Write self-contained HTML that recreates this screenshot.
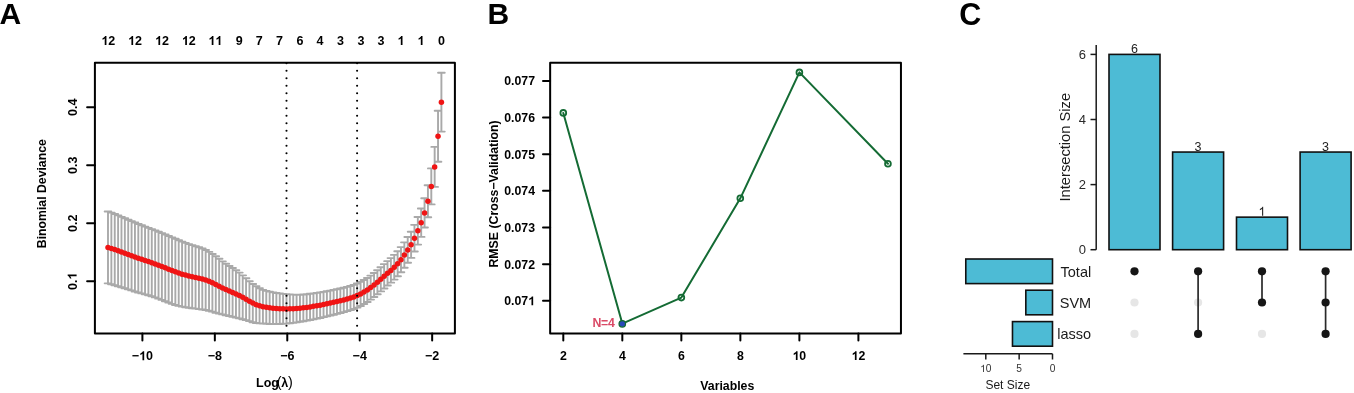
<!DOCTYPE html>
<html><head><meta charset="utf-8"><style>
html,body{margin:0;padding:0;background:#fff;}
body{width:1354px;height:393px;overflow:hidden;}
svg{display:block;font-family:"Liberation Sans", sans-serif;will-change:transform;}
</style></head><body>
<svg width="1354" height="393" viewBox="0 0 1354 393">
<text x="-0.40" y="24.30" font-size="30" font-weight="bold" text-anchor="start" fill="#000">A</text>
<path d="M441.40 72.80V131.60M438.05 72.80H444.75M438.05 131.60H444.75M438.03 110.70V161.70M434.68 110.70H441.38M434.68 161.70H441.38M434.66 146.90V186.90M431.31 146.90H438.01M431.31 186.90H438.01M431.30 168.40V204.40M427.95 168.40H434.65M427.95 204.40H434.65M427.93 185.30V217.30M424.58 185.30H431.28M424.58 217.30H431.28M424.56 198.30V227.50M421.21 198.30H427.91M421.21 227.50H427.91M421.19 208.50V236.90M417.84 208.50H424.54M417.84 236.90H424.54M417.83 217.00V244.60M414.48 217.00H421.18M414.48 244.60H421.18M414.46 224.87V251.53M411.11 224.87H417.81M411.11 251.53H417.81M411.09 231.72V257.88M407.74 231.72H414.44M407.74 257.88H414.44M407.72 237.01V262.78M404.37 237.01H411.07M404.37 262.78H411.07M404.36 242.34V267.78M401.01 242.34H407.71M401.01 267.78H407.71M400.99 247.12V272.22M397.64 247.12H404.34M397.64 272.22H404.34M397.62 251.30V276.18M394.27 251.30H400.97M394.27 276.18H400.97M394.25 254.90V279.61M390.90 254.90H397.60M390.90 279.61H397.60M390.88 258.12V282.66M387.53 258.12H394.23M387.53 282.66H394.23M387.52 261.16V285.55M384.17 261.16H390.87M384.17 285.55H390.87M384.15 264.17V288.45M380.80 264.17H387.50M380.80 288.45H387.50M380.78 267.22V291.39M377.43 267.22H384.13M377.43 291.39H384.13M377.41 270.22V294.28M374.06 270.22H380.76M374.06 294.28H380.76M374.05 273.04V297.04M370.70 273.04H377.40M370.70 297.04H377.40M370.68 275.60V299.60M367.33 275.60H374.03M367.33 299.60H374.03M367.31 277.93V301.93M363.96 277.93H370.66M363.96 301.93H370.66M363.94 280.03V304.03M360.59 280.03H367.29M360.59 304.03H367.29M360.58 281.89V305.93M357.23 281.89H363.93M357.23 305.93H363.93M357.21 283.49V307.58M353.86 283.49H360.56M353.86 307.58H360.56M353.84 284.83V308.97M350.49 284.83H357.19M350.49 308.97H357.19M350.47 285.95V310.14M347.12 285.95H353.82M347.12 310.14H353.82M347.11 286.88V311.17M343.76 286.88H350.46M343.76 311.17H350.46M343.74 287.71V312.12M340.39 287.71H347.09M340.39 312.12H347.09M340.37 288.49V313.01M337.02 288.49H343.72M337.02 313.01H343.72M337.00 289.22V313.87M333.65 289.22H340.35M333.65 313.87H340.35M333.63 289.92V314.73M330.28 289.92H336.98M330.28 314.73H336.98M330.27 290.59V315.56M326.92 290.59H333.62M326.92 315.56H333.62M326.90 291.24V316.37M323.55 291.24H330.25M323.55 316.37H330.25M323.53 291.84V317.16M320.18 291.84H326.88M320.18 317.16H326.88M320.16 292.40V317.93M316.81 292.40H323.51M316.81 317.93H323.51M316.80 292.92V318.66M313.45 292.92H320.15M313.45 318.66H320.15M313.43 293.40V319.35M310.08 293.40H316.78M310.08 319.35H316.78M310.06 293.81V320.02M306.71 293.81H313.41M306.71 320.02H313.41M306.69 294.18V320.65M303.34 294.18H310.04M303.34 320.65H310.04M303.33 294.48V321.22M299.98 294.48H306.68M299.98 321.22H306.68M299.96 294.72V321.73M296.61 294.72H303.31M296.61 321.73H303.31M296.59 294.70V322.33M293.24 294.70H299.94M293.24 322.33H299.94M293.22 294.60V322.85M289.87 294.60H296.57M289.87 322.85H296.57M289.85 294.42V323.28M286.50 294.42H293.20M286.50 323.28H293.20M286.49 294.16V323.60M283.14 294.16H289.84M283.14 323.60H289.84M283.12 293.83V323.81M279.77 293.83H286.47M279.77 323.81H286.47M279.75 293.42V323.93M276.40 293.42H283.10M276.40 323.93H283.10M276.38 292.93V323.98M273.03 292.93H279.73M273.03 323.98H279.73M273.02 292.34V323.99M269.67 292.34H276.37M269.67 323.99H276.37M269.65 291.66V323.95M266.30 291.66H273.00M266.30 323.95H273.00M266.28 290.87V323.79M262.93 290.87H269.63M262.93 323.79H269.63M262.91 289.92V323.48M259.56 289.92H266.26M259.56 323.48H266.26M259.55 288.28V323.37M256.20 288.28H262.90M256.20 323.37H262.90M256.18 286.29V322.97M252.83 286.29H259.53M252.83 322.97H259.53M252.81 283.93V322.21M249.46 283.93H256.16M249.46 322.21H256.16M249.44 281.25V321.17M246.09 281.25H252.79M246.09 321.17H252.79M246.07 278.26V320.15M242.72 278.26H249.42M242.72 320.15H249.42M242.71 275.33V319.19M239.36 275.33H246.06M239.36 319.19H246.06M239.34 272.58V318.40M235.99 272.58H242.69M235.99 318.40H242.69M235.97 270.20V317.61M232.62 270.20H239.32M232.62 317.61H239.32M232.60 268.06V316.82M229.25 268.06H235.95M229.25 316.82H235.95M229.24 265.94V316.05M225.89 265.94H232.59M225.89 316.05H232.59M225.87 263.77V315.22M222.52 263.77H229.22M222.52 315.22H229.22M222.50 261.35V314.42M219.15 261.35H225.85M219.15 314.42H225.85M219.13 258.79V313.59M215.78 258.79H222.48M215.78 313.59H222.48M215.77 256.22V312.70M212.42 256.22H219.12M212.42 312.70H219.12M212.40 253.96V311.64M209.05 253.96H215.75M209.05 311.64H215.75M209.03 251.88V310.76M205.68 251.88H212.38M205.68 310.76H212.38M205.66 250.07V310.05M202.31 250.07H209.01M202.31 310.05H209.01M202.29 248.57V309.51M198.94 248.57H205.64M198.94 309.51H205.64M198.93 247.29V309.10M195.58 247.29H202.28M195.58 309.10H202.28M195.56 246.22V308.67M192.21 246.22H198.91M192.21 308.67H198.91M192.19 245.17V308.27M188.84 245.17H195.54M188.84 308.27H195.54M188.82 244.08V307.82M185.47 244.08H192.17M185.47 307.82H192.17M185.46 242.90V307.29M182.11 242.90H188.81M182.11 307.29H188.81M182.09 241.61V306.65M178.74 241.61H185.44M178.74 306.65H185.44M178.72 240.20V305.89M175.37 240.20H182.07M175.37 305.89H182.07M175.35 238.69V305.02M172.00 238.69H178.70M172.00 305.02H178.70M171.99 237.33V303.83M168.64 237.33H175.34M168.64 303.83H175.34M168.62 235.94V302.55M165.27 235.94H171.97M165.27 302.55H171.97M165.25 234.52V301.23M161.90 234.52H168.60M161.90 301.23H168.60M161.88 233.09V299.91M158.53 233.09H165.23M158.53 299.91H165.23M158.52 231.70V298.63M155.17 231.70H161.87M155.17 298.63H161.87M155.15 230.38V297.41M151.80 230.38H158.50M151.80 297.41H158.50M151.78 229.14V296.28M148.43 229.14H155.13M148.43 296.28H155.13M148.41 227.89V295.27M145.06 227.89H151.76M145.06 295.27H151.76M145.04 226.60V294.36M141.69 226.60H148.39M141.69 294.36H148.39M141.68 225.29V293.42M138.33 225.29H145.03M138.33 293.42H145.03M138.31 223.94V292.45M134.96 223.94H141.66M134.96 292.45H141.66M134.94 222.56V291.44M131.59 222.56H138.29M131.59 291.44H138.29M131.57 221.15V290.41M128.22 221.15H134.92M128.22 290.41H134.92M128.21 219.72V289.36M124.86 219.72H131.56M124.86 289.36H131.56M124.84 218.27V288.29M121.49 218.27H128.19M121.49 288.29H128.19M121.47 216.83V287.23M118.12 216.83H124.82M118.12 287.23H124.82M118.10 215.42V286.18M114.75 215.42H121.45M114.75 286.18H121.45M114.74 214.05V285.19M111.39 214.05H118.09M111.39 285.19H118.09M111.37 212.67V284.18M108.02 212.67H114.72M108.02 284.18H114.72M108.00 211.45V283.34M104.65 211.45H111.35M104.65 283.34H111.35" stroke="#a9a9a9" stroke-width="1.9" stroke-linecap="round" fill="none"/>
<g fill="#f01414"><circle cx="441.40" cy="102.20" r="2.75"/><circle cx="438.03" cy="136.20" r="2.75"/><circle cx="434.66" cy="166.90" r="2.75"/><circle cx="431.30" cy="186.40" r="2.75"/><circle cx="427.93" cy="201.30" r="2.75"/><circle cx="424.56" cy="212.90" r="2.75"/><circle cx="421.19" cy="222.70" r="2.75"/><circle cx="417.83" cy="230.80" r="2.75"/><circle cx="414.46" cy="238.20" r="2.75"/><circle cx="411.09" cy="244.80" r="2.75"/><circle cx="407.72" cy="249.89" r="2.75"/><circle cx="404.36" cy="255.06" r="2.75"/><circle cx="400.99" cy="259.67" r="2.75"/><circle cx="397.62" cy="263.74" r="2.75"/><circle cx="394.25" cy="267.26" r="2.75"/><circle cx="390.88" cy="270.39" r="2.75"/><circle cx="387.52" cy="273.35" r="2.75"/><circle cx="384.15" cy="276.31" r="2.75"/><circle cx="380.78" cy="279.31" r="2.75"/><circle cx="377.41" cy="282.25" r="2.75"/><circle cx="374.05" cy="285.04" r="2.75"/><circle cx="370.68" cy="287.60" r="2.75"/><circle cx="367.31" cy="289.93" r="2.75"/><circle cx="363.94" cy="292.03" r="2.75"/><circle cx="360.58" cy="293.91" r="2.75"/><circle cx="357.21" cy="295.53" r="2.75"/><circle cx="353.84" cy="296.90" r="2.75"/><circle cx="350.47" cy="298.04" r="2.75"/><circle cx="347.11" cy="299.02" r="2.75"/><circle cx="343.74" cy="299.91" r="2.75"/><circle cx="340.37" cy="300.75" r="2.75"/><circle cx="337.00" cy="301.55" r="2.75"/><circle cx="333.63" cy="302.32" r="2.75"/><circle cx="330.27" cy="303.08" r="2.75"/><circle cx="326.90" cy="303.80" r="2.75"/><circle cx="323.53" cy="304.50" r="2.75"/><circle cx="320.16" cy="305.16" r="2.75"/><circle cx="316.80" cy="305.79" r="2.75"/><circle cx="313.43" cy="306.37" r="2.75"/><circle cx="310.06" cy="306.92" r="2.75"/><circle cx="306.69" cy="307.41" r="2.75"/><circle cx="303.33" cy="307.85" r="2.75"/><circle cx="299.96" cy="308.22" r="2.75"/><circle cx="296.59" cy="308.51" r="2.75"/><circle cx="293.22" cy="308.72" r="2.75"/><circle cx="289.85" cy="308.85" r="2.75"/><circle cx="286.49" cy="308.88" r="2.75"/><circle cx="283.12" cy="308.82" r="2.75"/><circle cx="279.75" cy="308.67" r="2.75"/><circle cx="276.38" cy="308.46" r="2.75"/><circle cx="273.02" cy="308.17" r="2.75"/><circle cx="269.65" cy="307.80" r="2.75"/><circle cx="266.28" cy="307.33" r="2.75"/><circle cx="262.91" cy="306.70" r="2.75"/><circle cx="259.55" cy="305.82" r="2.75"/><circle cx="256.18" cy="304.63" r="2.75"/><circle cx="252.81" cy="303.07" r="2.75"/><circle cx="249.44" cy="301.21" r="2.75"/><circle cx="246.07" cy="299.21" r="2.75"/><circle cx="242.71" cy="297.26" r="2.75"/><circle cx="239.34" cy="295.49" r="2.75"/><circle cx="235.97" cy="293.90" r="2.75"/><circle cx="232.60" cy="292.44" r="2.75"/><circle cx="229.24" cy="291.00" r="2.75"/><circle cx="225.87" cy="289.49" r="2.75"/><circle cx="222.50" cy="287.89" r="2.75"/><circle cx="219.13" cy="286.19" r="2.75"/><circle cx="215.77" cy="284.46" r="2.75"/><circle cx="212.40" cy="282.80" r="2.75"/><circle cx="209.03" cy="281.32" r="2.75"/><circle cx="205.66" cy="280.06" r="2.75"/><circle cx="202.29" cy="279.04" r="2.75"/><circle cx="198.93" cy="278.19" r="2.75"/><circle cx="195.56" cy="277.45" r="2.75"/><circle cx="192.19" cy="276.72" r="2.75"/><circle cx="188.82" cy="275.95" r="2.75"/><circle cx="185.46" cy="275.09" r="2.75"/><circle cx="182.09" cy="274.13" r="2.75"/><circle cx="178.72" cy="273.05" r="2.75"/><circle cx="175.35" cy="271.86" r="2.75"/><circle cx="171.99" cy="270.58" r="2.75"/><circle cx="168.62" cy="269.24" r="2.75"/><circle cx="165.25" cy="267.87" r="2.75"/><circle cx="161.88" cy="266.50" r="2.75"/><circle cx="158.52" cy="265.16" r="2.75"/><circle cx="155.15" cy="263.90" r="2.75"/><circle cx="151.78" cy="262.71" r="2.75"/><circle cx="148.41" cy="261.58" r="2.75"/><circle cx="145.04" cy="260.48" r="2.75"/><circle cx="141.68" cy="259.35" r="2.75"/><circle cx="138.31" cy="258.19" r="2.75"/><circle cx="134.94" cy="257.00" r="2.75"/><circle cx="131.57" cy="255.78" r="2.75"/><circle cx="128.21" cy="254.54" r="2.75"/><circle cx="124.84" cy="253.28" r="2.75"/><circle cx="121.47" cy="252.03" r="2.75"/><circle cx="118.10" cy="250.80" r="2.75"/><circle cx="114.74" cy="249.62" r="2.75"/><circle cx="111.37" cy="248.42" r="2.75"/><circle cx="108.00" cy="247.39" r="2.75"/></g>
<line x1="286.5" y1="63.2" x2="286.5" y2="332" stroke="#000" stroke-width="2.1" stroke-linecap="round" stroke-dasharray="0.01 7.49"/>
<line x1="357.1" y1="63.2" x2="357.1" y2="332" stroke="#000" stroke-width="2.1" stroke-linecap="round" stroke-dasharray="0.01 7.49"/>
<rect x="94.9" y="62.75" width="360" height="270.65" fill="none" stroke="#000" stroke-width="2" stroke-linejoin="round"/>
<line x1="142.40" y1="333.4" x2="142.40" y2="340.6" stroke="#000" stroke-width="2" stroke-linecap="round"/>
<g><text x="142.40" y="360.20" font-size="12.5" font-weight="bold" text-anchor="middle" fill="#000">− 0</text><path d="M144.19 360.20L142.47 360.20L142.47 353.74Q141.53 354.62 140.26 355.04L140.26 353.48Q140.93 353.26 141.32 352.96Q141.72 352.65 142.11 352.34Q142.50 352.04 142.80 351.25L144.19 351.25Z" fill="#000"/></g>
<line x1="214.84" y1="333.4" x2="214.84" y2="340.6" stroke="#000" stroke-width="2" stroke-linecap="round"/>
<text x="214.84" y="360.20" font-size="12.5" font-weight="bold" text-anchor="middle" fill="#000">−8</text>
<line x1="287.28" y1="333.4" x2="287.28" y2="340.6" stroke="#000" stroke-width="2" stroke-linecap="round"/>
<text x="287.28" y="360.20" font-size="12.5" font-weight="bold" text-anchor="middle" fill="#000">−6</text>
<line x1="359.72" y1="333.4" x2="359.72" y2="340.6" stroke="#000" stroke-width="2" stroke-linecap="round"/>
<text x="359.72" y="360.20" font-size="12.5" font-weight="bold" text-anchor="middle" fill="#000">−4</text>
<line x1="432.16" y1="333.4" x2="432.16" y2="340.6" stroke="#000" stroke-width="2" stroke-linecap="round"/>
<text x="432.16" y="360.20" font-size="12.5" font-weight="bold" text-anchor="middle" fill="#000">−2</text>
<line x1="87.1" y1="107.3" x2="94.9" y2="107.3" stroke="#000" stroke-width="2" stroke-linecap="round"/>
<text x="76.60" y="107.30" font-size="12.5" font-weight="bold" text-anchor="middle" fill="#000" transform="rotate(-90 76.60 107.30)">0.4</text>
<line x1="87.1" y1="165.3" x2="94.9" y2="165.3" stroke="#000" stroke-width="2" stroke-linecap="round"/>
<text x="76.60" y="165.30" font-size="12.5" font-weight="bold" text-anchor="middle" fill="#000" transform="rotate(-90 76.60 165.30)">0.3</text>
<line x1="87.1" y1="223.3" x2="94.9" y2="223.3" stroke="#000" stroke-width="2" stroke-linecap="round"/>
<text x="76.60" y="223.30" font-size="12.5" font-weight="bold" text-anchor="middle" fill="#000" transform="rotate(-90 76.60 223.30)">0.2</text>
<line x1="87.1" y1="281.3" x2="94.9" y2="281.3" stroke="#000" stroke-width="2" stroke-linecap="round"/>
<g transform="rotate(-90 76.60 281.30)"><text x="76.60" y="281.30" font-size="12.5" font-weight="bold" text-anchor="middle" fill="#000">0. </text><path d="M83.43 281.30L81.71 281.30L81.71 274.84Q80.77 275.72 79.50 276.14L79.50 274.58Q80.17 274.36 80.56 274.06Q80.95 273.75 81.35 273.44Q81.74 273.14 82.04 272.35L83.43 272.35Z" fill="#000"/></g>
<text x="46.40" y="193.70" font-size="12.25" font-weight="bold" text-anchor="middle" fill="#000" transform="rotate(-90 46.40 193.70)">Binomial Deviance</text>
<text x="256" y="386.7" font-size="12.5" font-weight="bold" text-anchor="start">Log<tspan font-weight="normal" font-size="14.5" dx="-2.2">(</tspan><tspan font-weight="bold" font-size="12.5" dx="-0.3">λ</tspan><tspan font-weight="normal" font-size="14.5" dx="-0.2">)</tspan></text>
<g><text x="108.30" y="44.90" font-size="12.5" font-weight="bold" text-anchor="middle" fill="#000"> 2</text><path d="M106.44 44.90L104.72 44.90L104.72 38.44Q103.78 39.32 102.51 39.74L102.51 38.18Q103.18 37.96 103.57 37.66Q103.97 37.35 104.36 37.04Q104.75 36.74 105.05 35.95L106.44 35.95Z" fill="#000"/></g>
<g><text x="135.00" y="44.90" font-size="12.5" font-weight="bold" text-anchor="middle" fill="#000"> 2</text><path d="M133.14 44.90L131.42 44.90L131.42 38.44Q130.48 39.32 129.21 39.74L129.21 38.18Q129.88 37.96 130.27 37.66Q130.67 37.35 131.06 37.04Q131.45 36.74 131.75 35.95L133.14 35.95Z" fill="#000"/></g>
<g><text x="162.00" y="44.90" font-size="12.5" font-weight="bold" text-anchor="middle" fill="#000"> 2</text><path d="M160.14 44.90L158.42 44.90L158.42 38.44Q157.48 39.32 156.21 39.74L156.21 38.18Q156.88 37.96 157.27 37.66Q157.67 37.35 158.06 37.04Q158.45 36.74 158.75 35.95L160.14 35.95Z" fill="#000"/></g>
<g><text x="188.80" y="44.90" font-size="12.5" font-weight="bold" text-anchor="middle" fill="#000"> 2</text><path d="M186.94 44.90L185.22 44.90L185.22 38.44Q184.28 39.32 183.01 39.74L183.01 38.18Q183.68 37.96 184.07 37.66Q184.47 37.35 184.86 37.04Q185.25 36.74 185.55 35.95L186.94 35.95Z" fill="#000"/></g>
<g><text x="215.30" y="44.90" font-size="12.5" font-weight="bold" text-anchor="middle" fill="#000">  </text><path d="M213.44 44.90L211.72 44.90L211.72 38.44Q210.78 39.32 209.51 39.74L209.51 38.18Q210.18 37.96 210.57 37.66Q210.97 37.35 211.36 37.04Q211.75 36.74 212.05 35.95L213.44 35.95ZM220.39 44.90L218.68 44.90L218.68 38.44Q217.74 39.32 216.46 39.74L216.46 38.18Q217.13 37.96 217.52 37.66Q217.92 37.35 218.31 37.04Q218.71 36.74 219.00 35.95L220.39 35.95Z" fill="#000"/></g>
<text x="239.30" y="44.90" font-size="12.5" font-weight="bold" text-anchor="middle" fill="#000">9</text>
<text x="259.30" y="44.90" font-size="12.5" font-weight="bold" text-anchor="middle" fill="#000">7</text>
<text x="279.50" y="44.90" font-size="12.5" font-weight="bold" text-anchor="middle" fill="#000">7</text>
<text x="299.90" y="44.90" font-size="12.5" font-weight="bold" text-anchor="middle" fill="#000">6</text>
<text x="320.10" y="44.90" font-size="12.5" font-weight="bold" text-anchor="middle" fill="#000">4</text>
<text x="340.40" y="44.90" font-size="12.5" font-weight="bold" text-anchor="middle" fill="#000">3</text>
<text x="360.90" y="44.90" font-size="12.5" font-weight="bold" text-anchor="middle" fill="#000">3</text>
<text x="380.90" y="44.90" font-size="12.5" font-weight="bold" text-anchor="middle" fill="#000">3</text>
<g><text x="400.90" y="44.90" font-size="12.5" font-weight="bold" text-anchor="middle" fill="#000"> </text><path d="M402.51 44.90L400.80 44.90L400.80 38.44Q399.86 39.32 398.58 39.74L398.58 38.18Q399.26 37.96 399.65 37.66Q400.04 37.35 400.44 37.04Q400.83 36.74 401.12 35.95L402.51 35.95Z" fill="#000"/></g>
<g><text x="420.90" y="44.90" font-size="12.5" font-weight="bold" text-anchor="middle" fill="#000"> </text><path d="M422.51 44.90L420.80 44.90L420.80 38.44Q419.86 39.32 418.58 39.74L418.58 38.18Q419.26 37.96 419.65 37.66Q420.04 37.35 420.44 37.04Q420.83 36.74 421.12 35.95L422.51 35.95Z" fill="#000"/></g>
<text x="441.50" y="44.90" font-size="12.5" font-weight="bold" text-anchor="middle" fill="#000">0</text>
<text x="487.50" y="24.30" font-size="30" font-weight="bold" text-anchor="start" fill="#000">B</text>
<rect x="550.15" y="62.75" width="350.8" height="270.65" fill="none" stroke="#000" stroke-width="2" stroke-linejoin="round"/>
<line x1="543.0" y1="80.90" x2="550.15" y2="80.90" stroke="#000" stroke-width="2" stroke-linecap="round"/>
<text x="535.00" y="85.30" font-size="12.3" font-weight="bold" text-anchor="end" fill="#000">0.077</text>
<line x1="543.0" y1="117.56" x2="550.15" y2="117.56" stroke="#000" stroke-width="2" stroke-linecap="round"/>
<text x="535.00" y="121.96" font-size="12.3" font-weight="bold" text-anchor="end" fill="#000">0.076</text>
<line x1="543.0" y1="154.21" x2="550.15" y2="154.21" stroke="#000" stroke-width="2" stroke-linecap="round"/>
<text x="535.00" y="158.61" font-size="12.3" font-weight="bold" text-anchor="end" fill="#000">0.075</text>
<line x1="543.0" y1="190.87" x2="550.15" y2="190.87" stroke="#000" stroke-width="2" stroke-linecap="round"/>
<text x="535.00" y="195.27" font-size="12.3" font-weight="bold" text-anchor="end" fill="#000">0.074</text>
<line x1="543.0" y1="227.52" x2="550.15" y2="227.52" stroke="#000" stroke-width="2" stroke-linecap="round"/>
<text x="535.00" y="231.92" font-size="12.3" font-weight="bold" text-anchor="end" fill="#000">0.073</text>
<line x1="543.0" y1="264.18" x2="550.15" y2="264.18" stroke="#000" stroke-width="2" stroke-linecap="round"/>
<text x="535.00" y="268.57" font-size="12.3" font-weight="bold" text-anchor="end" fill="#000">0.072</text>
<line x1="543.0" y1="300.83" x2="550.15" y2="300.83" stroke="#000" stroke-width="2" stroke-linecap="round"/>
<g><text x="535.00" y="305.23" font-size="12.3" font-weight="bold" text-anchor="end" fill="#000">0.07 </text><path d="M533.17 305.23L531.48 305.23L531.48 298.87Q530.56 299.73 529.30 300.15L529.30 298.62Q529.96 298.40 530.35 298.10Q530.74 297.80 531.12 297.50Q531.51 297.20 531.80 296.43L533.17 296.43Z" fill="#000"/></g>
<line x1="563.30" y1="333.4" x2="563.30" y2="340.6" stroke="#000" stroke-width="2" stroke-linecap="round"/>
<text x="563.30" y="360.00" font-size="12.3" font-weight="bold" text-anchor="middle" fill="#000">2</text>
<line x1="622.32" y1="333.4" x2="622.32" y2="340.6" stroke="#000" stroke-width="2" stroke-linecap="round"/>
<text x="622.32" y="360.00" font-size="12.3" font-weight="bold" text-anchor="middle" fill="#000">4</text>
<line x1="681.34" y1="333.4" x2="681.34" y2="340.6" stroke="#000" stroke-width="2" stroke-linecap="round"/>
<text x="681.34" y="360.00" font-size="12.3" font-weight="bold" text-anchor="middle" fill="#000">6</text>
<line x1="740.36" y1="333.4" x2="740.36" y2="340.6" stroke="#000" stroke-width="2" stroke-linecap="round"/>
<text x="740.36" y="360.00" font-size="12.3" font-weight="bold" text-anchor="middle" fill="#000">8</text>
<line x1="799.38" y1="333.4" x2="799.38" y2="340.6" stroke="#000" stroke-width="2" stroke-linecap="round"/>
<g><text x="799.38" y="360.00" font-size="12.3" font-weight="bold" text-anchor="middle" fill="#000"> 0</text><path d="M797.55 360.00L795.86 360.00L795.86 353.64Q794.94 354.50 793.68 354.92L793.68 353.39Q794.34 353.17 794.73 352.87Q795.12 352.57 795.50 352.27Q795.89 351.97 796.18 351.20L797.55 351.20Z" fill="#000"/></g>
<line x1="858.40" y1="333.4" x2="858.40" y2="340.6" stroke="#000" stroke-width="2" stroke-linecap="round"/>
<g><text x="858.40" y="360.00" font-size="12.3" font-weight="bold" text-anchor="middle" fill="#000"> 2</text><path d="M856.57 360.00L854.88 360.00L854.88 353.64Q853.96 354.50 852.70 354.92L852.70 353.39Q853.36 353.17 853.75 352.87Q854.14 352.57 854.52 352.27Q854.91 351.97 855.20 351.20L856.57 351.20Z" fill="#000"/></g>
<text x="727.30" y="389.80" font-size="12.3" font-weight="bold" text-anchor="middle" fill="#000">Variables</text>
<text x="498.50" y="193.90" font-size="12.3" font-weight="bold" text-anchor="middle" fill="#000" transform="rotate(-90 498.50 193.90)">RMSE (Cross−Validation)</text>
<polyline points="563.3,112.9 622.3,323.6 681.35,297.6 740.3,198.3 799.4,72.4 887.95,163.7" fill="none" stroke="#146b34" stroke-width="2" stroke-linejoin="round" stroke-linecap="round"/>
<circle cx="563.3" cy="112.9" r="2.9" fill="none" stroke="#146b34" stroke-width="1.8"/>
<circle cx="622.3" cy="323.8" r="3.25" fill="#2848b8" stroke="#146b34" stroke-width="1.25"/>
<circle cx="681.35" cy="297.6" r="2.9" fill="none" stroke="#146b34" stroke-width="1.8"/>
<circle cx="740.3" cy="198.3" r="2.9" fill="none" stroke="#146b34" stroke-width="1.8"/>
<circle cx="799.4" cy="72.4" r="2.9" fill="none" stroke="#146b34" stroke-width="1.8"/>
<circle cx="887.95" cy="163.7" r="2.9" fill="none" stroke="#146b34" stroke-width="1.8"/>
<text x="592.40" y="326.60" font-size="12.3" font-weight="bold" text-anchor="start" fill="#DA4A66" letter-spacing="-0.25">N=4</text>
<text x="959.20" y="24.50" font-size="30.5" font-weight="bold" text-anchor="start" fill="#000">C</text>
<line x1="1096.2" y1="45" x2="1096.2" y2="249.7" stroke="#1a1a1a" stroke-width="1.5"/>
<line x1="1090.5" y1="249.70" x2="1096.2" y2="249.70" stroke="#1a1a1a" stroke-width="1.5"/>
<text x="1086.10" y="254.30" font-size="13" font-weight="normal" text-anchor="end" fill="#2a2a2a">0</text>
<line x1="1090.5" y1="184.60" x2="1096.2" y2="184.60" stroke="#1a1a1a" stroke-width="1.5"/>
<text x="1086.10" y="189.20" font-size="13" font-weight="normal" text-anchor="end" fill="#2a2a2a">2</text>
<line x1="1090.5" y1="119.50" x2="1096.2" y2="119.50" stroke="#1a1a1a" stroke-width="1.5"/>
<text x="1086.10" y="124.10" font-size="13" font-weight="normal" text-anchor="end" fill="#2a2a2a">4</text>
<line x1="1090.5" y1="54.40" x2="1096.2" y2="54.40" stroke="#1a1a1a" stroke-width="1.5"/>
<text x="1086.10" y="59.00" font-size="13" font-weight="normal" text-anchor="end" fill="#2a2a2a">6</text>
<text x="1069.70" y="147.20" font-size="14.7" font-weight="normal" text-anchor="middle" fill="#1a1a1a" transform="rotate(-90 1069.70 147.20)">Intersection Size</text>
<rect x="1109.00" y="54.40" width="51.0" height="195.30" fill="#4DBBD5" stroke="#111" stroke-width="1.6"/>
<text x="1134.50" y="53.10" font-size="12.5" font-weight="normal" text-anchor="middle" fill="#222">6</text>
<rect x="1172.60" y="152.05" width="51.0" height="97.65" fill="#4DBBD5" stroke="#111" stroke-width="1.6"/>
<text x="1198.10" y="150.75" font-size="12.5" font-weight="normal" text-anchor="middle" fill="#222">3</text>
<rect x="1236.50" y="217.15" width="51.0" height="32.55" fill="#4DBBD5" stroke="#111" stroke-width="1.6"/>
<g><text x="1262.00" y="215.85" font-size="12.5" font-weight="normal" text-anchor="middle" fill="#222"> </text><path d="M1263.18 215.85L1262.08 215.85L1262.08 208.85Q1261.69 209.23 1261.36 209.42Q1261.04 209.61 1260.72 209.80Q1260.39 209.98 1259.87 210.17L1259.87 209.11Q1260.79 208.68 1261.14 208.37Q1261.48 208.06 1261.83 207.75Q1262.17 207.45 1262.46 206.87L1263.18 206.87Z" fill="#222"/></g>
<rect x="1300.10" y="152.05" width="51.0" height="97.65" fill="#4DBBD5" stroke="#111" stroke-width="1.6"/>
<text x="1325.60" y="150.75" font-size="12.5" font-weight="normal" text-anchor="middle" fill="#222">3</text>
<rect x="965.79" y="259.00" width="86.71" height="24.6" fill="#4DBBD5" stroke="#111" stroke-width="1.6"/>
<text x="1091.20" y="276.50" font-size="14.5" font-weight="normal" text-anchor="end" fill="#1a1a1a">Total</text>
<rect x="1025.82" y="290.20" width="26.68" height="24.6" fill="#4DBBD5" stroke="#111" stroke-width="1.6"/>
<text x="1091.20" y="307.70" font-size="14.5" font-weight="normal" text-anchor="end" fill="#1a1a1a">SVM</text>
<rect x="1012.48" y="321.60" width="40.02" height="24.6" fill="#4DBBD5" stroke="#111" stroke-width="1.6"/>
<text x="1091.20" y="339.10" font-size="14.5" font-weight="normal" text-anchor="end" fill="#1a1a1a">lasso</text>
<line x1="963.4" y1="353.8" x2="1052.5" y2="353.8" stroke="#1a1a1a" stroke-width="1.5"/>
<line x1="1052.50" y1="353.8" x2="1052.50" y2="359.5" stroke="#1a1a1a" stroke-width="1.5"/>
<text x="1052.50" y="372.00" font-size="10.2" font-weight="normal" text-anchor="middle" fill="#333">0</text>
<line x1="1019.15" y1="353.8" x2="1019.15" y2="359.5" stroke="#1a1a1a" stroke-width="1.5"/>
<text x="1019.15" y="372.00" font-size="10.2" font-weight="normal" text-anchor="middle" fill="#333">5</text>
<line x1="985.80" y1="353.8" x2="985.80" y2="359.5" stroke="#1a1a1a" stroke-width="1.5"/>
<g><text x="985.80" y="372.00" font-size="10.2" font-weight="normal" text-anchor="middle" fill="#333"> 0</text><path d="M983.93 372.00L983.03 372.00L983.03 366.29Q982.71 366.60 982.44 366.75Q982.18 366.90 981.92 367.06Q981.65 367.21 981.23 367.37L981.23 366.50Q981.98 366.15 982.26 365.90Q982.54 365.64 982.82 365.39Q983.11 365.14 983.34 364.67L983.93 364.67Z" fill="#333"/></g>
<text x="1007.80" y="388.80" font-size="12" font-weight="normal" text-anchor="middle" fill="#1a1a1a">Set Size</text>
<circle cx="1134.5" cy="302.5" r="4.1" fill="#e6e6e6"/>
<circle cx="1134.5" cy="333.9" r="4.1" fill="#e6e6e6"/>
<circle cx="1198.1" cy="302.5" r="4.1" fill="#e6e6e6"/>
<circle cx="1262.0" cy="333.9" r="4.1" fill="#e6e6e6"/>
<circle cx="1134.5" cy="271.3" r="4.1" fill="#161616"/>
<line x1="1198.1" y1="271.3" x2="1198.1" y2="333.9" stroke="#2a2a2a" stroke-width="1.7"/>
<circle cx="1198.1" cy="271.3" r="4.1" fill="#161616"/>
<circle cx="1198.1" cy="333.9" r="4.1" fill="#161616"/>
<line x1="1262.0" y1="271.3" x2="1262.0" y2="302.5" stroke="#2a2a2a" stroke-width="1.7"/>
<circle cx="1262.0" cy="271.3" r="4.1" fill="#161616"/>
<circle cx="1262.0" cy="302.5" r="4.1" fill="#161616"/>
<line x1="1325.6" y1="271.3" x2="1325.6" y2="333.9" stroke="#2a2a2a" stroke-width="1.7"/>
<circle cx="1325.6" cy="271.3" r="4.1" fill="#161616"/>
<circle cx="1325.6" cy="302.5" r="4.1" fill="#161616"/>
<circle cx="1325.6" cy="333.9" r="4.1" fill="#161616"/>
</svg>
</body></html>
